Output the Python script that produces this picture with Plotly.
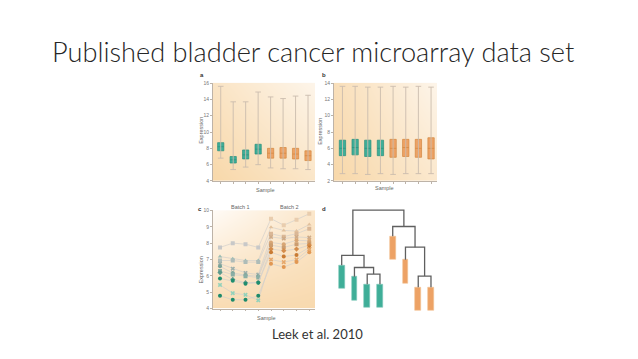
import plotly.graph_objects as go

W, H = 638, 359
def px(x): return x / W
def py(y): return 1 - y / H

samples = [0, 1, 2, 3, 4, 5, 6, 7]
batch_of_sample = ['Batch 1', 'Batch 1', 'Batch 1', 'Batch 1', 'Batch 2', 'Batch 2', 'Batch 2', 'Batch 2']

# Panel a: raw expression box statistics
a_upper = [15.6, 13.7, 13.7, 14.9, 14.3, 14.1, 14.4, 14.5]
a_q3 = [8.7, 7.0, 7.8, 8.5, 8.0, 8.1, 8.0, 7.7]
a_med = [8.2, 6.6, 7.2, 7.9, 7.4, 7.4, 7.3, 7.1]
a_q1 = [7.7, 6.2, 6.7, 7.3, 6.8, 6.8, 6.7, 6.5]
a_lower = [6.8, 5.4, 5.7, 6.0, 5.6, 5.5, 5.5, 5.4]

# Panel b: normalized expression box statistics
b_upper = [13.6, 13.6, 13.5, 13.5, 13.6, 13.5, 13.6, 13.5]
b_q3 = [7.0, 7.1, 7.0, 7.0, 7.1, 7.1, 7.1, 7.3]
b_med = [6.0, 6.1, 6.0, 6.0, 6.0, 6.1, 6.0, 6.0]
b_q1 = [5.1, 5.2, 5.0, 5.1, 4.9, 5.0, 4.9, 4.7]
b_lower = [2.9, 2.9, 2.8, 2.9, 2.8, 2.9, 2.9, 2.9]

# Panel c: gene expression across samples (10 genes)
c_gene1 = [7.74, 8.00, 7.94, 7.74, 9.50, 9.10, 9.44, 9.80]
c_gene2 = [7.18, 7.04, 6.94, 6.94, 8.98, 8.78, 8.74, 9.14]
c_gene3 = [6.94, 6.94, 6.84, 6.84, 8.58, 8.40, 8.58, 8.88]
c_gene4 = [6.74, 6.44, 6.18, 6.08, 8.38, 8.28, 8.38, 8.34]
c_gene5 = [6.58, 6.18, 6.04, 5.98, 8.04, 7.94, 8.18, 8.14]
c_gene6 = [6.30, 6.08, 5.98, 5.90, 7.88, 7.74, 7.94, 7.98]
c_gene7 = [6.20, 5.78, 5.58, 5.60, 7.64, 7.54, 7.64, 7.88]
c_gene8 = [5.84, 5.70, 5.52, 5.58, 7.44, 7.18, 7.28, 7.74]
c_gene9 = [5.44, 4.94, 4.84, 4.50, 7.00, 6.84, 7.00, 7.64]
c_gene10 = [4.78, 4.54, 4.54, 4.78, 6.74, 6.54, 6.84, 7.44]
c_genes = [c_gene1, c_gene2, c_gene3, c_gene4, c_gene5, c_gene6, c_gene7, c_gene8, c_gene9, c_gene10]

# Panel d: dendrogram (leaf box top heights, merges: child, child, height)
leaf_top = [53.3, 41.7, 34.0, 34.0, 82.7, 59.0, 31.0, 31.0]
merges = [(2, 3, 44.3), (1, 8, 51.0), (0, 9, 63.3), (6, 7, 42.3),
          (5, 11, 71.7), (4, 12, 92.7), (10, 13, 109.3)]

# ---- styles ----
TEAL_F, TEAL_L = '#3fae98', '#2a8f7c'
ORNG_F, ORNG_L = '#eda265', '#d2873f'
WHISK = '#cbbcae'
AX = '#bdb3a8'
FONT = 'Liberation Sans'

fig = go.Figure()

# Panel geometry (pixels)
pa = dict(x0=213, x1=315, y0=81, y1=181, xr=[-0.62, 7.56], yr=[4, 16.05])
pb = dict(x0=334, x1=437, y0=81, y1=181, xr=[-0.67, 7.47], yr=[2, 14.05])
pc = dict(x0=213, x1=315, y0=210.7, y1=310.7, xr=[-0.55, 7.45], yr=[4, 10.02])
pd_ = dict(x0=335, x1=438, y0=207, y1=320, xr=[-0.525, 7.55], yr=[0, 113])

def bg(xa, ya, p, z, cs):
    fig.add_trace(go.Heatmap(x=[p['xr'][0], p['xr'][1]], y=[p['yr'][0], p['yr'][1]], z=z,
                             zsmooth='best', colorscale=cs, showscale=False, hoverinfo='skip',
                             xaxis=xa, yaxis=ya))

cs_ab = [[0, '#fdf5ea'], [1, '#f8d8aa']]
bg('x', 'y', pa, [[1, 0.55], [0.6, 0.05]], cs_ab)
bg('x2', 'y2', pb, [[1, 0.45], [0.75, 0.0]], cs_ab)
bg('x3', 'y3', pc, [[0.8, 0.85], [0.1, 0.55]], [[0, '#fffbf6'], [1, '#f8d9ae']])

def boxes(xa, ya, upper, q3, med, q1, lower):
    wx, wy, cx, cy = [], [], [], []
    for s in samples:
        wx += [s, s, None]
        wy += [lower[s], upper[s], None]
        cx += [s, s]
        cy += [lower[s], upper[s]]
    fig.add_trace(go.Scatter(x=wx, y=wy, mode='lines', line=dict(color=WHISK, width=0.9),
                             hoverinfo='skip', xaxis=xa, yaxis=ya))
    fig.add_trace(go.Scatter(x=cx, y=cy, mode='markers',
                             marker=dict(symbol='line-ew', size=4, line=dict(color=WHISK, width=0.9)),
                             hoverinfo='skip', xaxis=xa, yaxis=ya))
    for idx, (f, l) in zip([samples[:4], samples[4:]], [(TEAL_F, TEAL_L), (ORNG_F, ORNG_L)]):
        fig.add_trace(go.Box(x=idx, q1=[q1[i] for i in idx], median=[med[i] for i in idx],
                             q3=[q3[i] for i in idx], lowerfence=[q1[i] for i in idx],
                             upperfence=[q3[i] for i in idx], width=0.5, whiskerwidth=0,
                             fillcolor=f, line=dict(color=l, width=0.7),
                             hoverinfo='skip', xaxis=xa, yaxis=ya))

boxes('x', 'y', a_upper, a_q3, a_med, a_q1, a_lower)
boxes('x2', 'y2', b_upper, b_q3, b_med, b_q1, b_lower)

# Panel c lines
symbols = ['square', 'triangle-up', 'square', 'x', 'circle', 'square', 'diamond', 'circle', 'x', 'circle']
col_b1 = ['#c8c8c8', '#9cbcb3', '#aebcb8', '#9fb0ab', '#79a398', '#8aaea4', '#5c998a', '#1f8d6d', '#93d2bb', '#1d8a6a']
col_b2 = ['#e9cdae', '#e2c19d', '#dab796', '#cfab88', '#d8a675', '#cc9d6f', '#d58d4b', '#c97b33', '#e6a86b', '#e19752']
for g, vals in enumerate(c_genes):
    cols = [col_b1[g] if b == 'Batch 1' else col_b2[g] for b in batch_of_sample]
    fig.add_trace(go.Scatter(x=samples, y=vals, mode='lines+markers',
                             line=dict(color='#d3d0cc', width=0.7),
                             marker=dict(symbol=symbols[g], size=4, color=cols, line=dict(width=0)),
                             hoverinfo='skip', xaxis='x3', yaxis='y3'))

# Panel d dendrogram
pos = [float(s) for s in samples]
hgt = list(leaf_top)
lx, ly = [], []
for a, b, h in merges:
    lx += [pos[a], pos[a], pos[b], pos[b], None]
    ly += [hgt[a], h, h, hgt[b], None]
    pos.append((pos[a] + pos[b]) / 2)
    hgt.append(h)
fig.add_trace(go.Scatter(x=lx, y=ly, mode='lines', line=dict(color='#5f5f5f', width=1.3),
                         hoverinfo='skip', xaxis='x4', yaxis='y4'))
box_h = 24
fig.add_trace(go.Bar(x=samples, y=[box_h for _ in samples], base=[t - box_h for t in leaf_top],
                     width=0.45,
                     marker=dict(color=[TEAL_F if b == 'Batch 1' else ORNG_F for b in batch_of_sample],
                                 line=dict(color=['#7fcabb' if b == 'Batch 1' else '#f3c394' for b in batch_of_sample], width=0.6)),
                     hoverinfo='skip', xaxis='x4', yaxis='y4'))

def axes(n, p, yt, show=True):
    sfx = '' if n == 1 else str(n)
    xd = [px(p['x0']), px(p['x1'])]
    yd = [py(p['y1']), py(p['y0'])]
    common = dict(showgrid=False, zeroline=False, showline=show, linecolor=AX, linewidth=0.8,
                  ticks='outside' if show else '', tickcolor=AX, ticklen=2, tickwidth=0.7,
                  visible=show, fixedrange=True)
    fig.update_layout(**{
        'xaxis' + sfx: dict(domain=xd, range=p['xr'], anchor='y' + sfx, tickvals=samples,
                            showticklabels=False, **common),
        'yaxis' + sfx: dict(domain=yd, range=p['yr'], anchor='x' + sfx, tickvals=yt,
                            tickfont=dict(size=5, color='#777', family=FONT), **common),
    })

axes(1, pa, [4, 6, 8, 10, 12, 14, 16])
axes(2, pb, [2, 4, 6, 8, 10, 12, 14])
axes(3, pc, [4, 5, 6, 7, 8, 9, 10])
axes(4, pd_, [], show=False)

ann = []
def txt(x, y, s, size, color='#555', angle=0, bold=False, family=FONT, weight=None):
    f = dict(size=size, color=color, family=family)
    if weight:
        f['weight'] = weight
    ann.append(dict(x=px(x), y=py(y), xref='paper', yref='paper', text=('<b>%s</b>' % s) if bold else s,
                    showarrow=False, textangle=angle, xanchor='center', yanchor='middle', font=f))

txt(313, 49, 'Published bladder cancer microarray data set', 27.2, '#262626', family='Lato', weight=300)
txt(317, 337, 'Leek et al. 2010', 13, '#333', family='Lato')
txt(202, 73, 'a', 6, '#333', bold=True)
txt(324, 73, 'b', 6, '#333', bold=True)
txt(200, 209, 'c', 6, '#333', bold=True)
txt(324, 209, 'd', 6, '#333', bold=True)
txt(201, 130, 'Expression', 5.5, '#666', angle=-90)
txt(320, 130, 'Expression', 5.5, '#666', angle=-90)
txt(201, 272, 'Expression', 5.5, '#666', angle=-90)
txt(265, 190, 'Sample', 5.5, '#666')
txt(384, 188, 'Sample', 5.5, '#666')
txt(266, 320, 'Sample', 5.5, '#666')
txt(240, 207, 'Batch 1', 5.5, '#666')
txt(289, 207, 'Batch 2', 5.5, '#666')

fig.update_layout(width=W, height=H, margin=dict(l=0, r=0, t=0, b=0),
                  paper_bgcolor='white', plot_bgcolor='rgba(0,0,0,0)',
                  showlegend=False, annotations=ann, bargap=0)
fig.write_html('out.html', config={'displayModeBar': False},
               post_script="document.body.style.margin='0px';")
